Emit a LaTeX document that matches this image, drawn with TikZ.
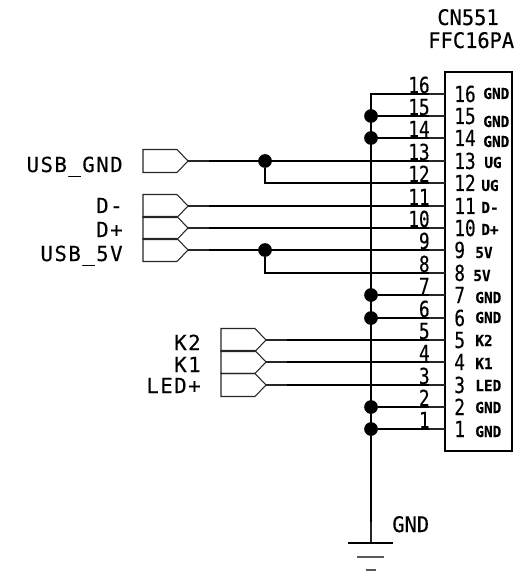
\documentclass[tikz,border=0pt]{standalone}
\usepackage{fontspec}
\usepackage{tikz}
\setmainfont[FakeBold=0.35,FakeStretch=0.95]{DejaVu Sans Mono}
\newfontfamily\widefont[LetterSpace=7,FakeBold=0.35]{DejaVu Sans Mono}
\newfontfamily\pinfont[FakeBold=0.35,FakeStretch=0.8]{DejaVu Sans Mono}
\usetikzlibrary{positioning,calc}
\tikzset{
    thinwire/.style={line width=0.6pt, black!85},
    thickwire/.style={line width=1.5pt, black},
    portbox/.style={line width=0.6pt, black!85},
    dot/.style={circle, fill=black, inner sep=0pt, minimum size=7.8pt},
    nametext/.style={inner sep=0pt, anchor=base west, font=\fontsize{12.2}{13}\selectfont},
    numtext/.style={inner sep=0pt, font=\pinfont\fontsize{12.6}{13}\selectfont},
    sigtext/.style={inner sep=0pt, anchor=base east, font=\widefont\fontsize{11.8}{12}\selectfont},
    pintext/.style={inner sep=0pt, anchor=base west, font=\bfseries\fontsize{8.6}{9}\selectfont},
}

\begin{document}
\begin{tikzpicture}[x=0.02cm, y=-0.02cm]
    \useasboundingbox (0,0) rectangle (514,574);

    % Connector body
    \node[nametext] (cnname) at (437,25) {CN551};
    \node[nametext] (cntype) at (428,48) {FFC16PA};
    \draw[line width=1pt] (445,72) rectangle (512,451);

    % Pins: number, wire y, signal text and where it starts
    \foreach \n/\y/\sig/\sx/\sy in {16/94/GND/483/99, 15/116/GND/483/127, 14/138/GND/483/147,
        13/161/UG/484/168, 12/183/UG/481/191, 11/206/D-/481/213, 10/228/D+/481/235,
        9/250/5V/475/258, 8/273/5V/473/281, 7/295/GND/475/303, 6/318/GND/475/323,
        5/340/K2/475/346, 4/362/K1/475/369, 3/385/LED/475/391, 2/407/GND/475/413, 1/429/GND/475/437} {
        \coordinate (pin\n) at (445,\y);
        \coordinate (stub\n) at (429,\y);
        \draw[thinwire] (stub\n) -- (pin\n);
        \node[numtext, anchor=base east] (out\n) at (430,\y-1) {\n};
        \node[numtext, anchor=base west] (in\n) at (454,\y+8) {\n};
        \node[pintext] (sig\n) at (\sx,\sy) {\sig};
    }

    % Ground bus
    \coordinate (gndin) at (371,522);
    \coordinate (gndtop) at (371,543);
    \coordinate (bustop) at (371,94);
    \draw[thickwire] (stub16) -- (bustop) -- (gndin);
    \draw[thinwire] (gndin) -- (gndtop);
    \foreach \n/\y in {15/116, 14/138, 7/295, 6/318, 2/407, 1/429} {
        \node[dot] (bus\n) at (371,\y) {};
        \draw[thickwire] (bus\n) -- (stub\n);
    }

    % Ground symbol
    \draw[line width=0.6pt] (348,543) -- (393,543);
    \draw[line width=0.7pt, black!65] (357,557) -- (384,557);
    \draw[line width=0.7pt, black!65] (366,570) -- (376,570);
    \node[nametext] (gndname) at (392,532) {GND};

    % Ports on the left
    \foreach \name/\lbl/\xa/\y/\pn/\ly in {usbg/USB\_GND/143/161/13/172, dm/D-/143/206/11/213, dp/D+/143/228/10/237,
        usbv/USB\_5V/143/250/9/261, ka/K2/221/340/5/350, kb/K1/221/362/4/372, led/LED+/221/385/3/393} {
        \draw[portbox] (\xa,\y-11.5) -- (\xa+34,\y-11.5) -- (\xa+45,\y) -- (\xa+34,\y+11.5) -- (\xa,\y+11.5) -- cycle;
        \coordinate (\name) at (\xa+45,\y);
        \coordinate (\name w) at (\xa+66,\y);
        \draw[thinwire] (\name) -- (\name w);
        \draw[thickwire] (\name w) -- (stub\pn);
        \node[sigtext] (\name t) at (\xa-20,\ly) {\lbl};
    }

    % Tied pins
    \node[dot] (jga) at (265,161) {};
    \node[dot] (jva) at (265,250) {};
    \draw[thickwire] (jga) |- (stub12);
    \draw[thickwire] (jva) |- (stub8);
\end{tikzpicture}
\end{document}
